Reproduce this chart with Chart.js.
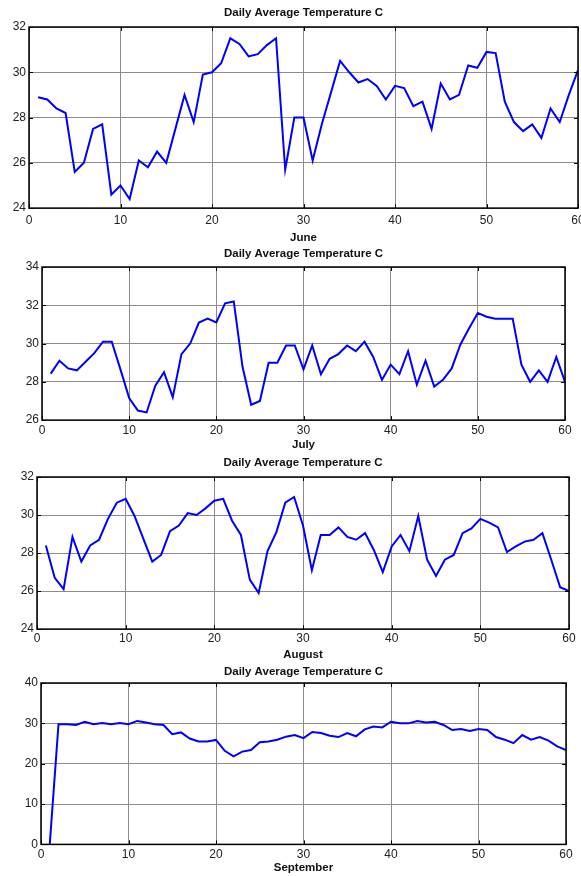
<!DOCTYPE html>
<html>
<head>
<meta charset="utf-8">
<script src="https://cdn.jsdelivr.net/npm/chart.js@4.4.1/dist/chart.umd.min.js"></script>
<style>
html, body { margin: 0; padding: 0; background: #fff; overflow: hidden; width: 581px; height: 876px; }
canvas { position: absolute; left: 0; }
</style>
</head>
<body>
<canvas id="june-chart"></canvas>
<canvas id="july-chart"></canvas>
<canvas id="august-chart"></canvas>
<canvas id="september-chart"></canvas>
<script>
var days = [1,2,3,4,5,6,7,8,9,10,11,12,13,14,15,16,17,18,19,20,
  21,22,23,24,25,26,27,28,29,30,31,32,33,34,35,36,37,38,39,40,
  41,42,43,44,45,46,47,48,49,50,51,52,53,54,55,56,57,58,59,60];

var juneTemp = [28.9,28.8,28.4,28.2,25.6,26.0,27.5,27.7,24.6,25.0,
  24.4,26.1,25.8,26.5,26.0,27.5,29.0,27.8,29.9,30.0,
  30.4,31.5,31.25,30.7,30.8,31.2,31.5,25.7,28.0,28.0,
  26.1,27.7,29.1,30.5,30.0,29.55,29.7,29.4,28.8,29.4,
  29.3,28.5,28.7,27.5,29.5,28.8,29.0,30.3,30.2,30.9,
  30.85,28.7,27.8,27.4,27.7,27.1,28.4,27.8,29.0,30.1];

var julyTemp = [28.43,29.1,28.7,28.6,29.05,29.5,30.1,30.1,28.65,27.15,
  26.5,26.4,27.8,28.5,27.2,29.45,30.0,31.1,31.3,31.1,
  32.1,32.2,28.8,26.8,27.0,29.0,29.0,29.9,29.9,28.65,
  29.9,28.4,29.2,29.45,29.9,29.6,30.1,29.3,28.1,28.9,
  28.4,29.6,27.85,29.1,27.75,28.1,28.7,29.95,30.8,31.6,
  31.4,31.3,31.3,31.3,28.9,28.0,28.6,28.0,29.3,28.0];

var augustTemp = [28.4,26.7,26.1,28.85,27.55,28.4,28.7,29.8,30.65,30.85,
  29.95,28.75,27.55,27.9,29.15,29.45,30.1,30.0,30.35,30.75,
  30.85,29.7,28.95,26.6,25.9,28.1,29.1,30.65,30.95,29.45,
  27.1,28.95,28.95,29.35,28.85,28.7,29.05,28.15,27.0,28.35,
  28.95,28.1,29.95,27.65,26.8,27.65,27.9,29.05,29.3,29.8,
  29.6,29.35,28.05,28.35,28.6,28.7,29.05,27.65,26.2,26.0];

var septemberTemp = [0,29.8,29.8,29.6,30.4,29.8,30.1,29.8,30.1,29.8,
  30.6,30.2,29.8,29.6,27.3,27.75,26.25,25.5,25.5,25.9,
  23.2,21.8,23.0,23.4,25.3,25.5,25.95,26.7,27.1,26.35,
  27.85,27.6,26.95,26.6,27.6,26.8,28.5,29.2,29.0,30.4,
  30.0,30.0,30.6,30.2,30.4,29.6,28.35,28.6,28.1,28.6,
  28.35,26.6,25.95,25.1,27.1,25.95,26.6,25.7,24.3,23.4];

var chartTitle = 'Daily Average Temperature C';
var fontFamily = "'Liberation Sans', Arial, sans-serif";

Chart.defaults.font.family = fontFamily;

// black box round the plot area plus small inward ticks, matlab style
var frame = {
  id: 'frame',
  afterDatasetsDraw: function(chart) {
    var a = chart.chartArea, ctx = chart.ctx;
    var xs = chart.scales.x, ys = chart.scales.y;
    ctx.save();
    ctx.strokeStyle = '#000';
    ctx.lineWidth = 1;
    ctx.beginPath();
    xs.ticks.forEach(function(t) {
      var px = Math.round(xs.getPixelForValue(t.value)) + 0.5;
      ctx.moveTo(px, a.top); ctx.lineTo(px, a.top + 4);
      ctx.moveTo(px, a.bottom); ctx.lineTo(px, a.bottom - 4);
    });
    ys.ticks.forEach(function(t) {
      var py = Math.round(ys.getPixelForValue(t.value)) + 0.5;
      ctx.moveTo(a.left, py); ctx.lineTo(a.left + 4, py);
      ctx.moveTo(a.right, py); ctx.lineTo(a.right - 4, py);
    });
    ctx.stroke();
    ctx.lineWidth = 1.5;
    ctx.strokeRect(a.left, a.top, a.right - a.left, a.bottom - a.top);
    ctx.restore();
  }
};

function makeChart(id, month, temps, yMin, yMax, yStep, box) {
  var head = 22;
  var axisH = box.labelOff + 6.9;
  var canvas = document.getElementById(id);
  canvas.width = 600;
  canvas.height = Math.round(head + (box.bottom - box.top) + axisH);
  canvas.style.top = (box.top - head) + 'px';
  var padTop = head - box.titleAbove - 6.9;

  return new Chart(canvas, {
    type: 'line',
    data: {
      datasets: [{
        data: days.map(function(d, i) { return {x: d, y: temps[i]}; }),
        borderColor: '#0000ff',
        borderWidth: 2,
        pointRadius: 0,
        fill: false,
        tension: 0
      }]
    },
    options: {
      responsive: false,
      animation: false,
      layout: { padding: { left: 0, right: 600 - box.right, top: 0, bottom: 0 } },
      plugins: {
        legend: { display: false },
        tooltip: { enabled: false },
        title: {
          display: true,
          text: chartTitle,
          fullSize: false,
          color: '#111',
          font: { size: 11.5, weight: 'bold' },
          padding: { top: padTop, bottom: head - 13.8 - padTop }
        }
      },
      scales: {
        x: {
          type: 'linear',
          min: 0, max: 60,
          afterFit: function(s) { s.height = axisH; },
          ticks: { stepSize: 10, padding: box.tickOff - 7.2, color: '#222', font: { size: 12 }, maxRotation: 0 },
          grid: { color: '#8c8c8c', drawTicks: false },
          border: { display: false },
          title: { display: true, text: month, color: '#111', font: { size: 11.5, weight: 'bold' }, padding: 0 }
        },
        y: {
          min: yMin, max: yMax,
          afterFit: function(s) { s.width = box.left; },
          ticks: { stepSize: yStep, padding: 3, color: '#222', font: { size: 12 } },
          grid: { color: '#8c8c8c', drawTicks: false },
          border: { display: false }
        }
      }
    },
    plugins: [frame]
  });
}

makeChart('june-chart', 'June', juneTemp, 24, 32, 2,
  { left: 29, right: 578, top: 27, bottom: 208, titleAbove: 14.5, tickOff: 12.3, labelOff: 30 });
makeChart('july-chart', 'July', julyTemp, 26, 34, 2,
  { left: 42, right: 565, top: 267, bottom: 420, titleAbove: 12.7, tickOff: 10.5, labelOff: 25 });
makeChart('august-chart', 'August', augustTemp, 24, 32, 2,
  { left: 37, right: 569, top: 477, bottom: 629, titleAbove: 13.9, tickOff: 9.5, labelOff: 26 });
makeChart('september-chart', 'September', septemberTemp, 0, 40, 10,
  { left: 41, right: 566, top: 683, bottom: 844, titleAbove: 11.6, tickOff: 10.5, labelOff: 23.7 });
</script>
</body>
</html>
